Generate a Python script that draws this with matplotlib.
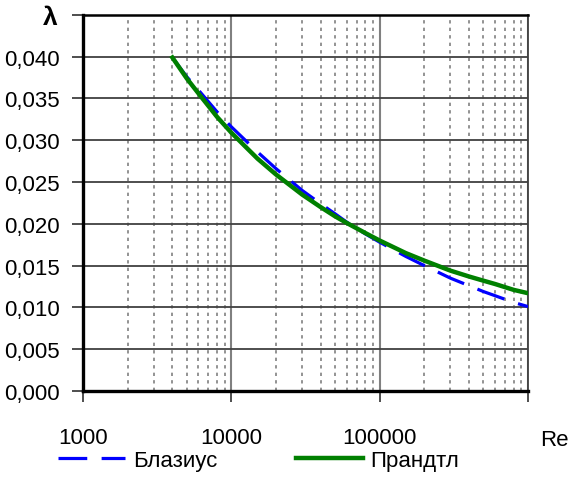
import matplotlib.pyplot as plt
from matplotlib.ticker import FixedLocator, LogLocator, NullFormatter, FuncFormatter

re_blasius = [4000, 5000, 6000, 8000, 10000, 15000, 20000, 30000, 40000, 50000, 60000,
              80000, 100000, 150000, 200000, 300000, 400000, 500000, 600000, 800000, 1000000]
lam_blasius = [0.0399, 0.0376, 0.0360, 0.0334, 0.0316, 0.0286, 0.0266, 0.0240, 0.0224, 0.0212,
               0.0202, 0.0188, 0.0178, 0.0161, 0.0150, 0.0135, 0.0126, 0.0119, 0.0114, 0.0106, 0.0101]

re_prandtl = [4000, 5000, 6000, 8000, 10000, 15000, 20000, 30000, 40000, 50000, 60000,
              80000, 100000, 150000, 200000, 300000, 400000, 500000, 600000, 800000, 1000000]
lam_prandtl = [0.0399, 0.0374, 0.0356, 0.0328, 0.0309, 0.0278, 0.0259, 0.0235, 0.0220, 0.0209,
               0.0201, 0.0189, 0.0180, 0.0165, 0.0156, 0.0144, 0.0137, 0.0132, 0.0128, 0.0121, 0.0117]

plt.rcParams['font.family'] = ['Liberation Sans', 'DejaVu Sans']
plt.rcParams['font.size'] = 16

fig = plt.figure(figsize=(5.69, 4.81), dpi=100)
ax = fig.add_axes([0.146, 0.185, 0.782, 0.782])

ax.plot(re_blasius, lam_blasius, color='#0000ff', lw=2.3, dashes=(9, 4.5), label='Блазиус', zorder=3)
ax.plot(re_prandtl, lam_prandtl, color='#008000', lw=3.2, label='Прандтл', zorder=4)

ax.set_xscale('log')
ax.set_xlim(1000, 1000000)
ax.set_ylim(0, 0.045)

ax.xaxis.set_major_locator(FixedLocator([1000, 10000, 100000, 1000000]))
ax.xaxis.set_major_formatter(FuncFormatter(lambda v, p: '%d' % v if v < 1000000 else ''))
ax.xaxis.set_minor_locator(LogLocator(base=10, subs=range(2, 10)))
ax.xaxis.set_minor_formatter(NullFormatter())

yt = [i * 0.005 for i in range(10)]
ax.set_yticks(yt)
ax.set_yticklabels([('%.3f' % v).replace('.', ',') if v < 0.044 else '' for v in yt])

ax.grid(True, which='major', axis='y', color='#404040', lw=1.3)
ax.grid(True, which='major', axis='x', color='#808080', lw=1.5)
ax.grid(True, which='minor', axis='x', color='#808080', lw=1.2, ls=(0, (2, 2.5)))

ax.tick_params(axis='both', which='major', direction='out', length=8, width=1.3, color='#404040')
ax.tick_params(axis='x', which='major', pad=18)
ax.tick_params(axis='y', which='major', pad=9)
ax.tick_params(axis='x', which='minor', length=0)

for s in ['left', 'bottom']:
    ax.spines[s].set_linewidth(2.4)
    ax.spines[s].set_color('black')
ax.spines['top'].set_linewidth(1.8)
ax.spines['right'].set_linewidth(1.3)
ax.spines['right'].set_color('#404040')

fig.text(0.088, 0.962, 'λ', fontsize=19, fontweight='bold', ha='center', va='center')
fig.text(0.975, 0.085, 'Re', ha='center', va='center')

fig.legend(loc='center', bbox_to_anchor=(0.455, 0.04), ncol=2, frameon=False,
           handlelength=3.0, handletextpad=0.35, columnspacing=3.55)

fig.savefig('out.png', dpi=100)
